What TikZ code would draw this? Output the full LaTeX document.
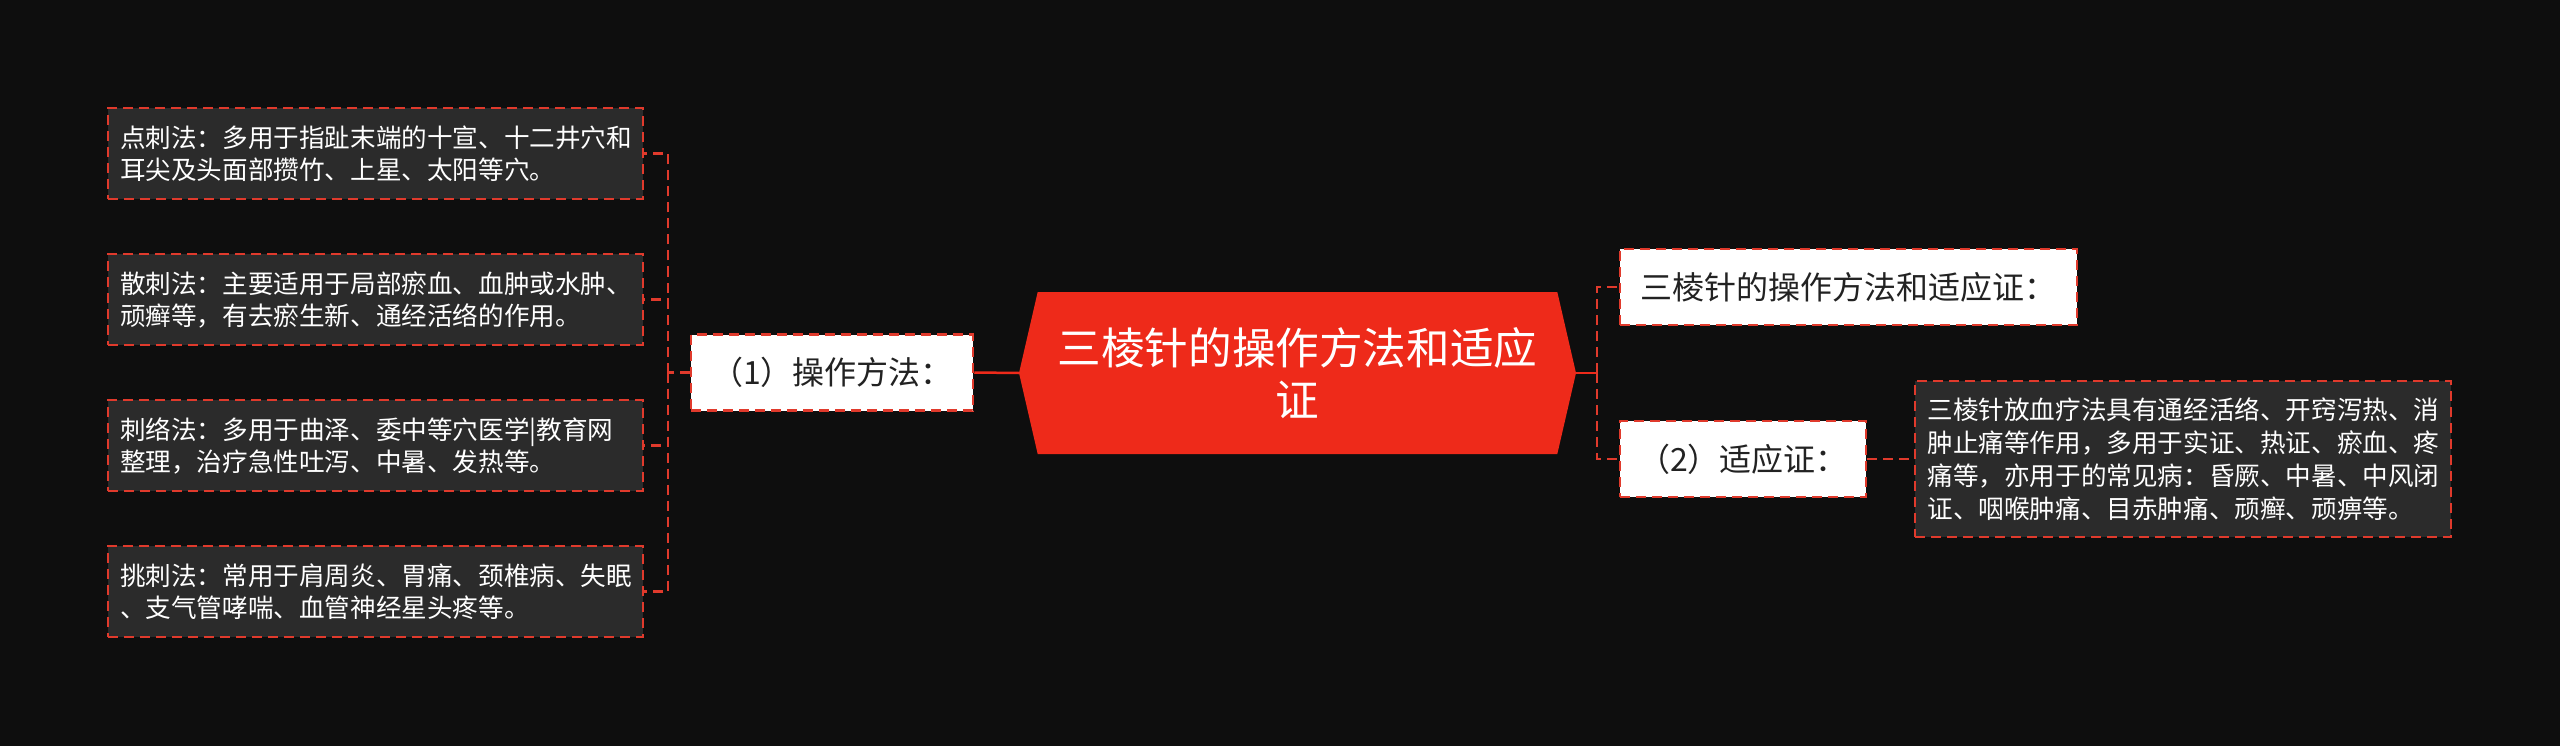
\documentclass[tikz,border=0pt]{standalone}
\usepackage{fontspec}
\setmainfont{Noto Sans CJK SC}
\usetikzlibrary{positioning,shapes.symbols}
\definecolor{mmbg}{HTML}{0E0E0E}
\definecolor{mmred}{HTML}{EE2A1A}
\definecolor{mmdash}{HTML}{E03A2C}
\definecolor{mmbox}{HTML}{2B2B2B}
\definecolor{mmink}{HTML}{222222}
\tikzset{
root/.style={signal,signal to=west and east,signal pointer angle=154,fill=mmred,draw=none,
  text=white,font=\fontsize{43.6pt}{52pt}\selectfont,align=center,
  minimum width=557pt,minimum height=162pt,inner sep=0pt},
my dash/.style={line width=2.5pt,dash pattern=on 10pt off 6pt},
branch/.style={draw=mmdash,my dash,fill=white,text=mmink,
  font=\fontsize{32pt}{40pt}\selectfont,minimum height=76pt,inner sep=0pt},
leaf/.style={draw=mmdash,my dash,fill=mmbox,text=white,
  font=\fontsize{25.6pt}{32pt}\selectfont,text width=511pt,align=left,
  inner xsep=12pt,inner ysep=0pt,minimum height=91pt},
link/.style={draw=mmdash,my dash},
trunk/.style={draw=mmred,line width=2.5pt},
}

\begin{document}
\begin{tikzpicture}[x=1pt,y=-1pt]
\fill[mmbg] (0,0) rectangle (2560,746);
\useasboundingbox (0,0) rectangle (2560,746);

\node[root]   (root) at (1297.5,373) {三棱针的操作方法和适应\\证};

% left side
\node[branch,minimum width=282pt] (op) at (832,372.5) {（1）操作方法：};
\node[leaf] (dian) at (375.5,153.5)       {点刺法：多用于指趾末端的十宣、十二井穴和\\耳尖及头面部攒竹、上星、太阳等穴。};
\node[leaf] (san)  [below=52.5pt of dian] {散刺法：主要适用于局部瘀血、血肿或水肿、\\顽癣等，有去瘀生新、通经活络的作用。};
\node[leaf] (luo)  [below=52.5pt of san]  {刺络法：多用于曲泽、委中等穴医学|教育网\\整理，治疗急性吐泻、中暑、发热等。};
\node[leaf] (tiao) [below=52.5pt of luo]  {挑刺法：常用于肩周炎、胃痛、颈椎病、失眠\\、支气管哮喘、血管神经星头疼等。};

% right side
\node[branch,minimum width=457pt] (ttl) at (1848.5,287) {三棱针的操作方法和适应证：};
\node[branch,minimum width=246pt] (sym) at (1743,459)   {（2）适应证：};
\node[leaf,minimum width=536pt,minimum height=156pt,font=\fontsize{25.6pt}{33pt}\selectfont]
  (det) [right=46.5pt of sym] {三棱针放血疗法具有通经活络、开窍泻热、消\\肿止痛等作用，多用于实证、热证、瘀血、疼\\痛等，亦用于的常见病：昏厥、中暑、中风闭\\证、咽喉肿痛、目赤肿痛、顽癣、顽痹等。};

\coordinate (lfork) at (668,372.5);
\coordinate (rfork) at (1597,373);

\draw[trunk] (root.west) -- (op.east);
\draw[trunk] (root.east) -- (rfork);
\draw[link] (op.west) -- (lfork);
\foreach \n in {dian,san,luo,tiao}
  \draw[link] (lfork) |- (\n.east);
\draw[link] (rfork) |- (ttl.west);
\draw[link] (rfork) |- (sym.west);
\draw[link] (sym.east) -- (det.west);
\end{tikzpicture}
\end{document}
